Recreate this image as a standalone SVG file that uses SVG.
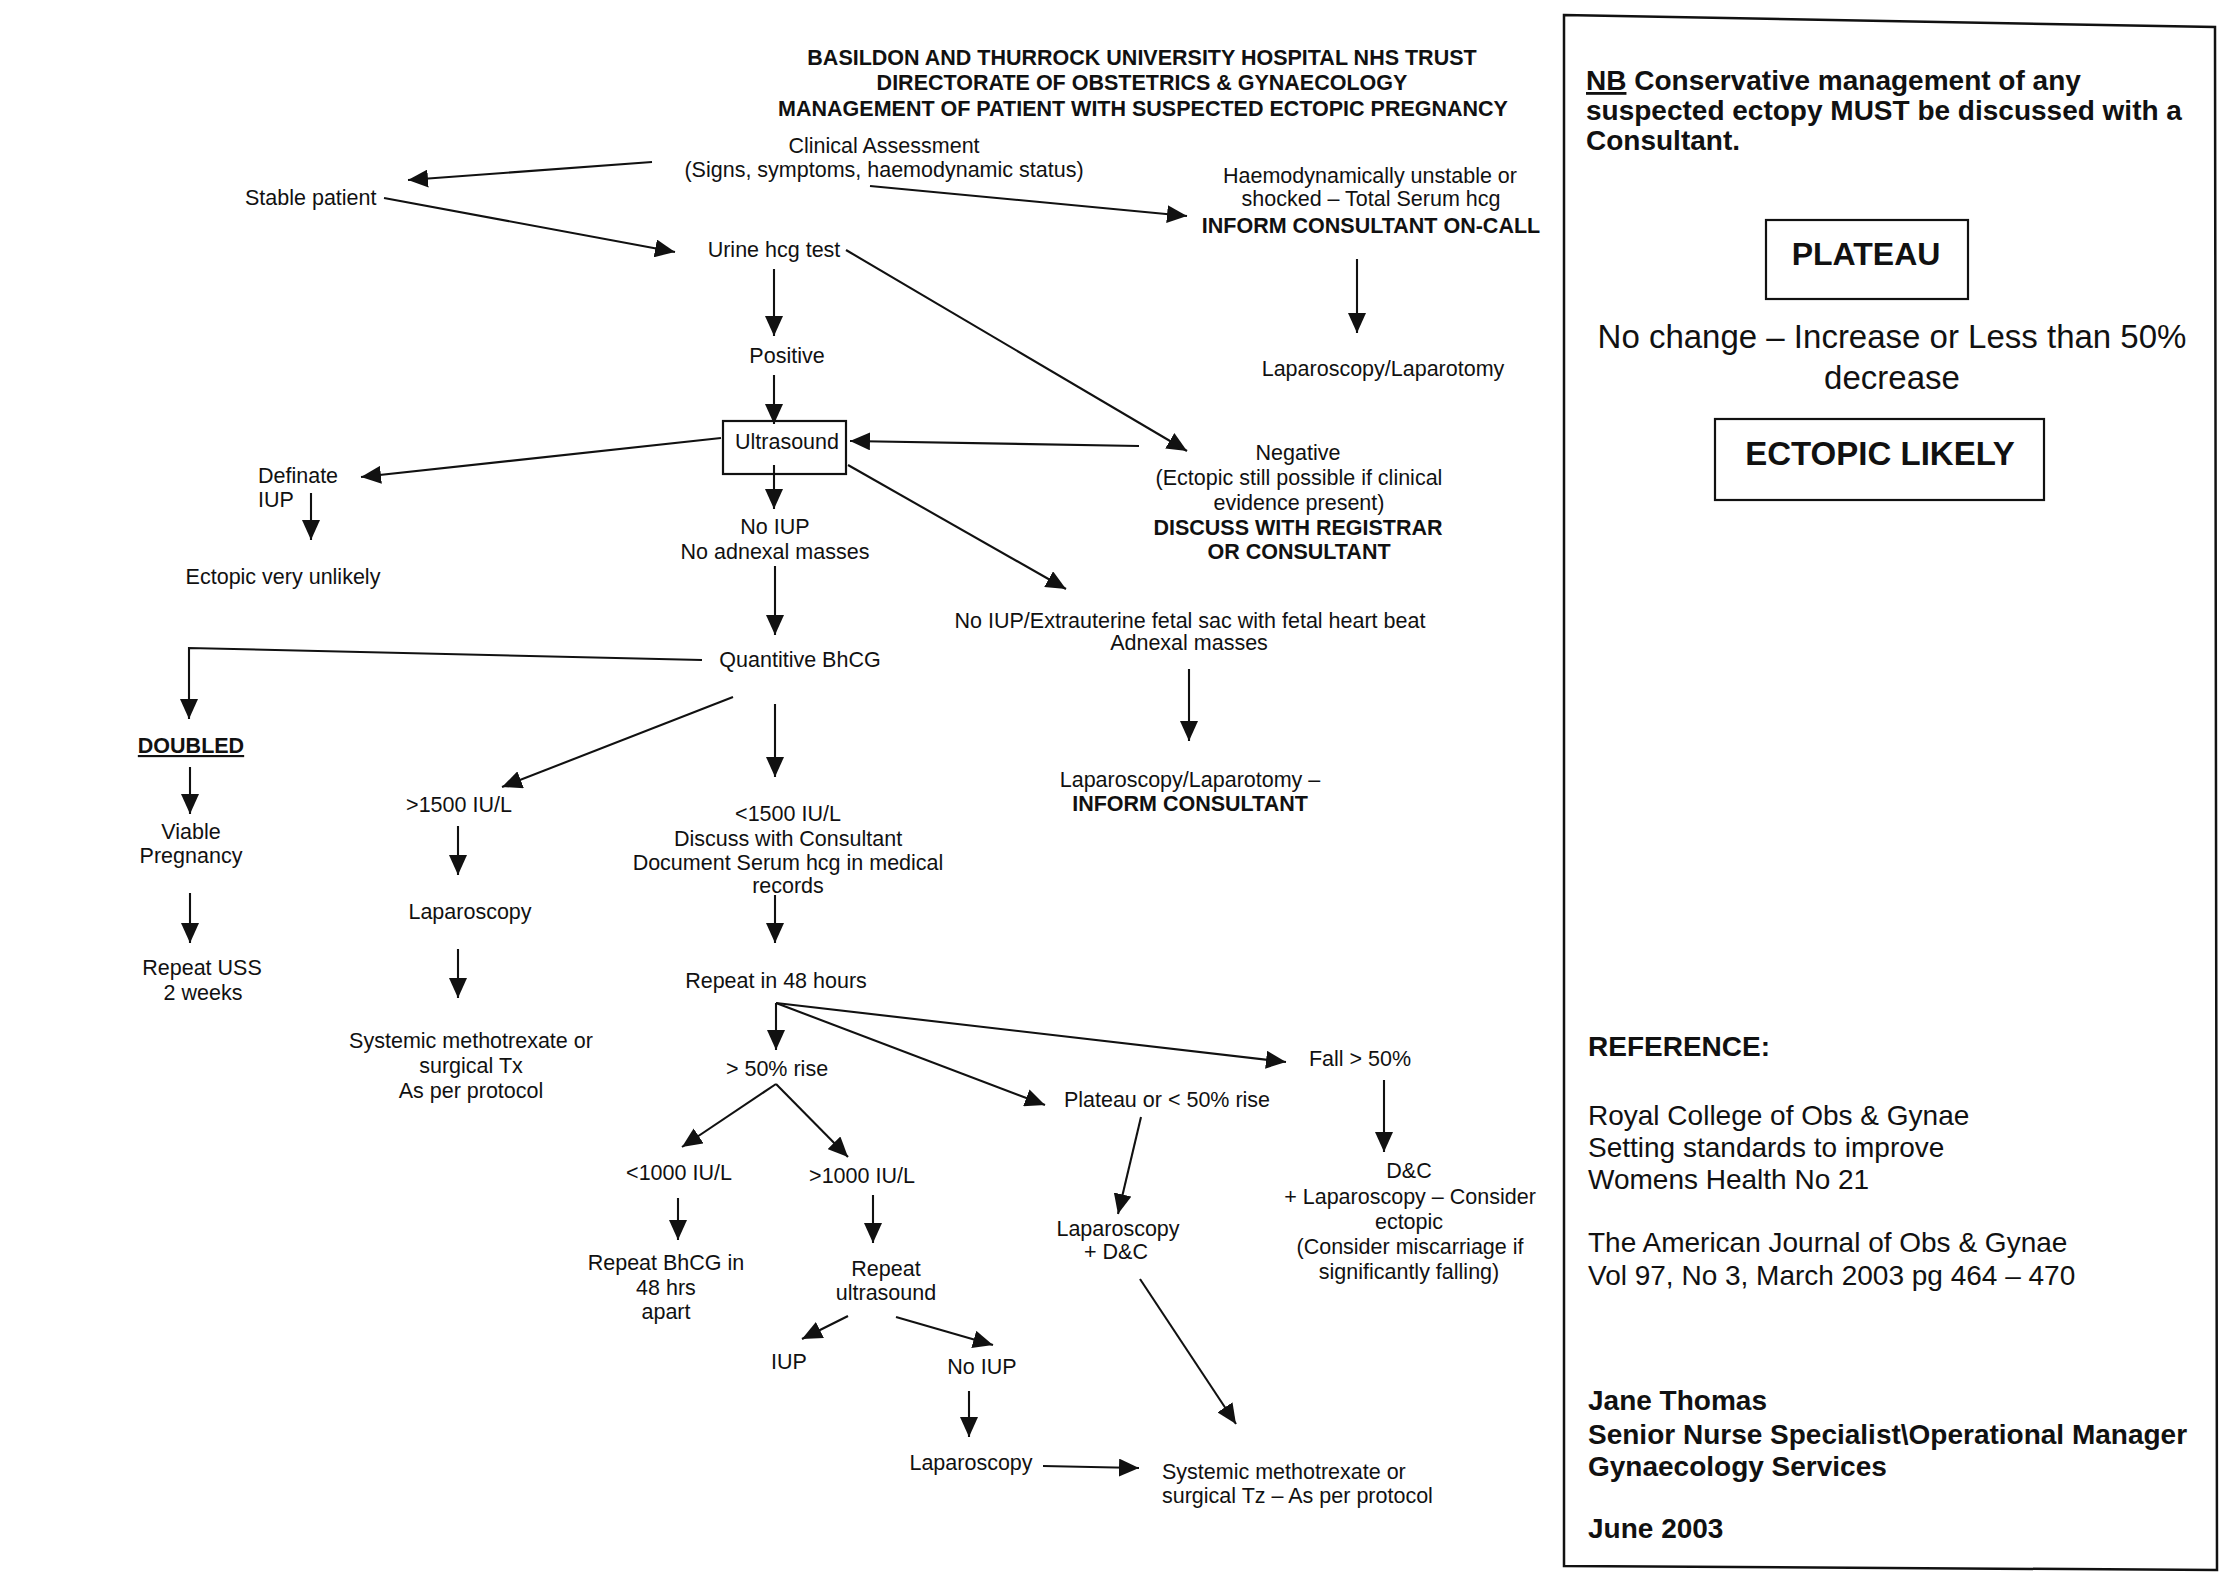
<svg xmlns="http://www.w3.org/2000/svg" width="2227" height="1580" viewBox="0 0 2227 1580">
<style>
text { font-family: "Liberation Sans", Arial, Helvetica, sans-serif; font-size: 21.5px; fill: #111; }
.c { text-anchor: middle; }
.b { font-weight: bold; }
.p { font-size: 28px; }
.ln { stroke: #111; stroke-width: 2.1; fill: none; }
.a { marker-end: url(#ah); }
.box { fill: none; stroke: #111; stroke-width: 2.2; }
</style>
<defs>
<marker id="ah" markerUnits="userSpaceOnUse" viewBox="0 0 20 18" markerWidth="20" markerHeight="18" refX="20" refY="9" orient="auto">
<path d="M0,0 L20,9 L0,18 z" fill="#111"/>
</marker>
</defs>
<rect x="0" y="0" width="2227" height="1580" fill="#fff"/>

<g id="title" class="b">
<text class="c b" x="1142" y="65">BASILDON AND THURROCK UNIVERSITY HOSPITAL NHS TRUST</text>
<text class="c b" x="1142" y="90">DIRECTORATE OF OBSTETRICS &amp; GYNAECOLOGY</text>
<text class="c b" x="1143" y="116">MANAGEMENT OF PATIENT WITH SUSPECTED ECTOPIC PREGNANCY</text>
</g>

<g id="connectors">
<path class="ln a" d="M652,162 L408,180"/>
<path class="ln a" d="M870,186 L1187,216"/>
<path class="ln a" d="M384,198 L675,252"/>
<path class="ln a" d="M846,250 L1187,451"/>
<path class="ln a" d="M774,269 L774,336"/>
<path class="ln a" d="M774,375 L774,424"/>
<path class="ln a" d="M721,438 L361,477"/>
<path class="ln a" d="M1139,446 L850,441"/>
<path class="ln a" d="M848,465 L1066,589"/>
<path class="ln a" d="M774,465 L774,509"/>
<path class="ln a" d="M311,493 L311,540"/>
<path class="ln a" d="M1357,259 L1357,333"/>
<path class="ln a" d="M775,566 L775,635"/>
<path class="ln a" d="M702,660 L189,648 L189,719"/>
<path class="ln a" d="M733,697 L502,787"/>
<path class="ln a" d="M775,704 L775,777"/>
<path class="ln a" d="M1189,669 L1189,741"/>
<path class="ln a" d="M190,767 L190,814"/>
<path class="ln a" d="M190,893 L190,943"/>
<path class="ln a" d="M458,826 L458,875"/>
<path class="ln a" d="M458,949 L458,998"/>
<path class="ln a" d="M775,895 L775,943"/>
<path class="ln a" d="M776,1003 L776,1050"/>
<path class="ln a" d="M776,1003 L1045,1105"/>
<path class="ln a" d="M776,1003 L1286,1062"/>
<path class="ln a" d="M776,1084 L682,1147"/>
<path class="ln a" d="M776,1084 L848,1157"/>
<path class="ln a" d="M678,1198 L678,1240"/>
<path class="ln a" d="M873,1195 L873,1243"/>
<path class="ln a" d="M848,1316 L802,1339"/>
<path class="ln a" d="M896,1317 L993,1345"/>
<path class="ln a" d="M969,1391 L969,1437"/>
<path class="ln a" d="M1043,1466 L1139,1468"/>
<path class="ln a" d="M1384,1080 L1384,1152"/>
<path class="ln a" d="M1141,1117 L1118,1214"/>
<path class="ln a" d="M1140,1279 L1236,1424"/>
</g>

<g id="clinical">
<text class="c" x="884" y="153">Clinical Assessment</text>
<text class="c" x="884" y="177">(Signs, symptoms, haemodynamic status)</text>
</g>
<g id="stable"><text x="245" y="205">Stable patient</text></g>
<g id="urine"><text class="c" x="774" y="257">Urine hcg test</text></g>
<g id="haemo">
<text class="c" x="1370" y="183">Haemodynamically unstable or</text>
<text class="c" x="1371" y="206">shocked – Total Serum hcg</text>
<text class="c b" x="1371" y="233">INFORM CONSULTANT ON-CALL</text>
</g>
<g id="laplap1"><text class="c" x="1383" y="376">Laparoscopy/Laparotomy</text></g>
<g id="positive"><text class="c" x="787" y="363">Positive</text></g>
<g id="ultrasound">
<rect class="box" x="723" y="421" width="123" height="53"/>
<text class="c" x="787" y="449">Ultrasound</text>
</g>
<g id="negative">
<text class="c" x="1298" y="460">Negative</text>
<text class="c" x="1299" y="485">(Ectopic still possible if clinical</text>
<text class="c" x="1299" y="510">evidence present)</text>
<text class="c b" x="1298" y="535">DISCUSS WITH REGISTRAR</text>
<text class="c b" x="1299" y="559">OR CONSULTANT</text>
</g>
<g id="definate">
<text x="258" y="483">Definate</text>
<text x="258" y="507">IUP</text>
</g>
<g id="ectopic-unlikely"><text class="c" x="283" y="584">Ectopic very unlikely</text></g>
<g id="no-iup-1">
<text class="c" x="775" y="534">No IUP</text>
<text class="c" x="775" y="559">No adnexal masses</text>
</g>
<g id="extrauterine">
<text class="c" x="1190" y="628">No IUP/Extrauterine fetal sac with fetal heart beat</text>
<text class="c" x="1189" y="650">Adnexal masses</text>
</g>
<g id="quantitive"><text class="c" x="800" y="667">Quantitive BhCG</text></g>
<g id="laplap2">
<text class="c" x="1190" y="787">Laparoscopy/Laparotomy –</text>
<text class="c b" x="1190" y="811">INFORM CONSULTANT</text>
</g>
<g id="doubled"><text class="c b" x="191" y="753" text-decoration="underline">DOUBLED</text></g>
<g id="viable">
<text class="c" x="191" y="839">Viable</text>
<text class="c" x="191" y="863">Pregnancy</text>
</g>
<g id="repeat-uss">
<text class="c" x="202" y="975">Repeat USS</text>
<text class="c" x="203" y="1000">2 weeks</text>
</g>
<g id="gt1500"><text class="c" x="459" y="812">&gt;1500 IU/L</text></g>
<g id="laparoscopy-1"><text class="c" x="470" y="919">Laparoscopy</text></g>
<g id="systemic-1">
<text class="c" x="471" y="1048">Systemic methotrexate or</text>
<text class="c" x="471" y="1073">surgical Tx</text>
<text class="c" x="471" y="1098">As per protocol</text>
</g>
<g id="lt1500">
<text class="c" x="788" y="821">&lt;1500 IU/L</text>
<text class="c" x="788" y="846">Discuss with Consultant</text>
<text class="c" x="788" y="870">Document Serum hcg in medical</text>
<text class="c" x="788" y="893">records</text>
</g>
<g id="repeat48"><text class="c" x="776" y="988">Repeat in 48 hours</text></g>
<g id="rise50"><text class="c" x="777" y="1076">&gt; 50% rise</text></g>
<g id="plateau-rise"><text class="c" x="1167" y="1107">Plateau or &lt; 50% rise</text></g>
<g id="fall50"><text class="c" x="1360" y="1066">Fall &gt; 50%</text></g>
<g id="lt1000"><text class="c" x="679" y="1180">&lt;1000 IU/L</text></g>
<g id="gt1000"><text class="c" x="862" y="1183">&gt;1000 IU/L</text></g>
<g id="repeat-bhcg">
<text class="c" x="666" y="1270">Repeat BhCG in</text>
<text class="c" x="666" y="1295">48 hrs</text>
<text class="c" x="666" y="1319">apart</text>
</g>
<g id="repeat-us">
<text class="c" x="886" y="1276">Repeat</text>
<text class="c" x="886" y="1300">ultrasound</text>
</g>
<g id="iup"><text class="c" x="789" y="1369">IUP</text></g>
<g id="no-iup-2"><text class="c" x="982" y="1374">No IUP</text></g>
<g id="laparoscopy-2"><text class="c" x="971" y="1470">Laparoscopy</text></g>
<g id="lap-dc">
<text class="c" x="1118" y="1236">Laparoscopy</text>
<text class="c" x="1116" y="1259">+ D&amp;C</text>
</g>
<g id="dc">
<text class="c" x="1409" y="1178">D&amp;C</text>
<text class="c" x="1410" y="1204">+ Laparoscopy – Consider</text>
<text class="c" x="1409" y="1229">ectopic</text>
<text class="c" x="1410" y="1254">(Consider miscarriage if</text>
<text class="c" x="1409" y="1279">significantly falling)</text>
</g>
<g id="systemic-2">
<text x="1162" y="1479">Systemic methotrexate or</text>
<text x="1162" y="1503">surgical Tz – As per protocol</text>
</g>

<g id="side-panel">
<polygon points="1564,15 2215,27 2217,1570 1564,1566" fill="none" stroke="#111" stroke-width="2.5"/>
<text class="b p" x="1586" y="90"><tspan text-decoration="underline">NB</tspan> Conservative management of any</text>
<text class="b p" x="1586" y="120">suspected ectopy MUST be discussed with a</text>
<text class="b p" x="1586" y="150">Consultant.</text>
<rect class="box" x="1766" y="220" width="202" height="79"/>
<text class="c b" x="1866" y="265" style="font-size:32px">PLATEAU</text>
<text class="c" x="1892" y="348" style="font-size:33px">No change – Increase or Less than 50%</text>
<text class="c" x="1892" y="389" style="font-size:33px">decrease</text>
<rect class="box" x="1715" y="419" width="329" height="81"/>
<text class="c b" x="1880" y="465" style="font-size:33px">ECTOPIC LIKELY</text>
<text class="b p" x="1588" y="1056">REFERENCE:</text>
<text class="p" x="1588" y="1125">Royal College of Obs &amp; Gynae</text>
<text class="p" x="1588" y="1157">Setting standards to improve</text>
<text class="p" x="1588" y="1189">Womens Health No 21</text>
<text class="p" x="1588" y="1252">The American Journal of Obs &amp; Gynae</text>
<text class="p" x="1588" y="1285">Vol 97, No 3, March 2003 pg 464 – 470</text>
<text class="b p" x="1588" y="1410">Jane Thomas</text>
<text class="b p" x="1588" y="1444">Senior Nurse Specialist\Operational Manager</text>
<text class="b p" x="1588" y="1476">Gynaecology Services</text>
<text class="b p" x="1588" y="1538">June 2003</text>
</g>
</svg>
